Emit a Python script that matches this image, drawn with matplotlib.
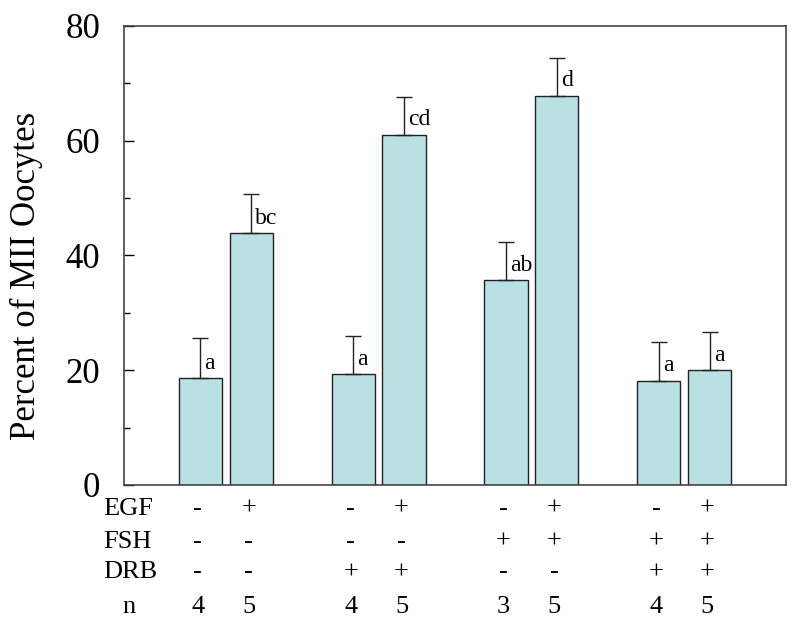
import matplotlib
matplotlib.use('Agg')
import matplotlib.pyplot as plt
from matplotlib.ticker import MultipleLocator

plt.rcParams['font.family'] = ['Liberation Serif', 'DejaVu Serif']

# values
positions = [0, 1, 3, 4, 6, 7, 9, 10]
pct = [18.6, 43.9, 19.3, 61.0, 35.7, 67.8, 18.2, 20.0]
err = [7.1, 6.9, 6.7, 6.6, 6.7, 6.7, 6.7, 6.7]
letters = ['a', 'bc', 'a', 'cd', 'ab', 'd', 'a', 'a']

egf = ['-', '+', '-', '+', '-', '+', '-', '+']
fsh = ['-', '-', '-', '-', '+', '+', '+', '+']
drb = ['-', '-', '+', '+', '-', '-', '+', '+']
n = ['4', '5', '4', '5', '3', '5', '4', '5']

fig = plt.figure(figsize=(8, 6.29), dpi=100)
ax = fig.add_axes([0.155, 0.229, 0.8275, 0.7297])

ax.bar(positions, pct, width=0.85, color='#b9e0e3', edgecolor='#222222', linewidth=1.0)
ax.errorbar(positions, pct, yerr=[[0] * len(err), err], fmt='none', ecolor='#222222',
            elinewidth=1.0, capsize=6, capthick=1.0)

for x, v, lab in zip(positions, pct, letters):
    ax.text(x + 0.08, v + 0.8, lab, ha='left', va='bottom', fontsize=17)

ax.set_xlim(-1.5, 11.5)
ax.set_ylim(0, 80)
ax.yaxis.set_major_locator(MultipleLocator(20))
ax.yaxis.set_minor_locator(MultipleLocator(10))
ax.tick_params(axis='y', which='major', direction='in', length=7, width=1, labelsize=25, pad=17)
ax.tick_params(axis='y', which='minor', direction='in', length=4.5, width=1)
ax.tick_params(axis='x', bottom=False, labelbottom=False)
for s in ax.spines.values():
    s.set_color('#444444')
    s.set_linewidth(1.2)

ax.set_ylabel('Percent of MII Oocytes', fontsize=25)
ax.yaxis.set_label_coords(-0.122, 0.455)

# treatment table under the axis
rows = [('EGF', egf, -0.052), ('FSH', fsh, -0.124), ('DRB', drb, -0.190), ('n', n, -0.266)]
trans = ax.get_xaxis_transform()
px = 51.0  # pixels per x unit
for name, vals, yy in rows:
    if name == 'n':
        ax.text(-1.5 + (129 - 124) / px, yy, name, transform=trans, fontsize=19, ha='center', va='center')
    else:
        ax.text(-1.5 - (124 - 103) / px, yy, name, transform=trans, fontsize=19, ha='left', va='center')
    for x, v in zip(positions, vals):
        ax.text(x - 0.05, yy, v, transform=trans, fontsize=19, ha='center', va='center')

fig.savefig('out.png', dpi=100)
